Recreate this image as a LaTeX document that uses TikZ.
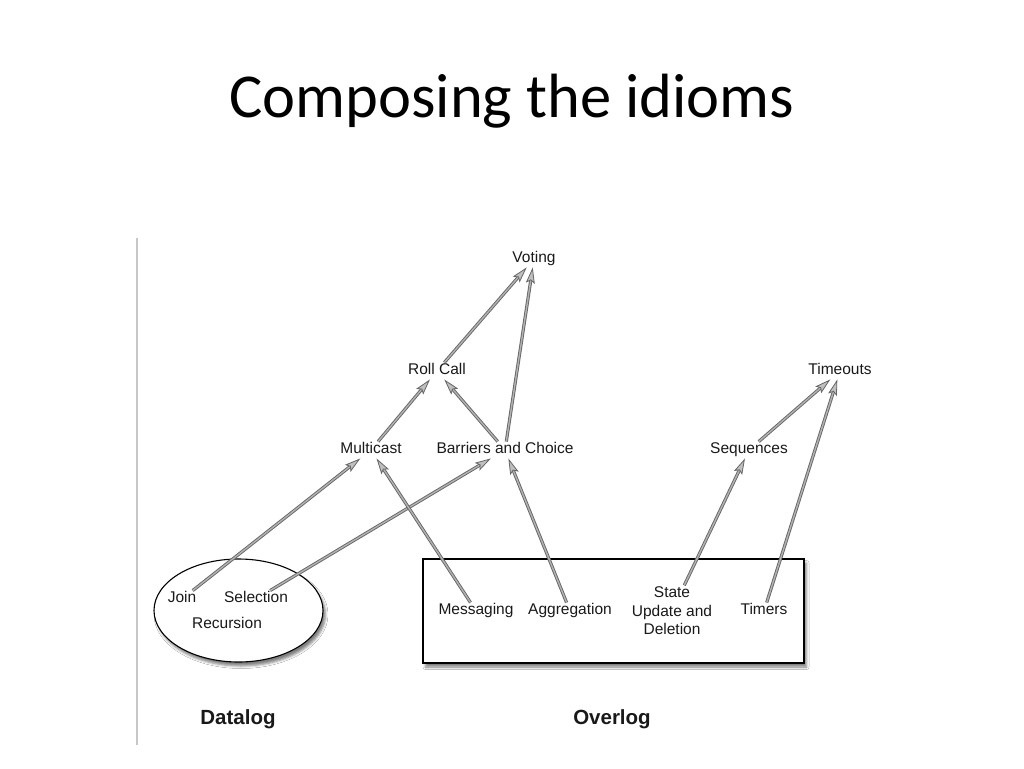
\documentclass[tikz,border=0pt]{standalone}
\usepackage{fontspec}
\setmainfont{Liberation Sans}
\newfontfamily\titlefont{Carlito}
\usetikzlibrary{arrows.meta,shapes.geometric,shadows.blur}
\begin{document}
\begin{tikzpicture}[x=1pt,y=-1pt,
  base/.style={font=\fontsize{15.5}{18.5}\selectfont, text=black!90, inner xsep=1pt, inner ysep=1.5pt},
  lbl/.style={base, text height=10.5pt, text depth=3pt},
  grp/.style={font=\bfseries\fontsize{20.5}{24}\selectfont, text=black!90},
  container/.style={draw=black, line width=1.1pt, fill=white,
    blur shadow={shadow xshift=2.5pt, shadow yshift=-4pt, shadow blur radius=2.5pt, shadow opacity=50}},
  idiom/.style={draw=black!60, line width=0.9pt, double=black!30, double distance=1.4pt,
    -{Stealth[length=16pt,width=9pt,inset=3pt,fill=black!25,color=black!60,line width=0.8pt]}}
]
\useasboundingbox (0,0) rectangle (1024,768);
\fill[white] (0,0) rectangle (1024,768);

% title
\node[font=\titlefont\fontsize{62.5}{70}\selectfont, anchor=base, inner sep=0] (title) at (512,117) {Composing the idioms};

% left rule
\coordinate (ruletop) at (137,238);
\coordinate (rulebot) at (137,745);
\draw[black!22, line width=1.6pt] (ruletop) -- (rulebot);

% containers
\node[container, ellipse, minimum width=169pt, minimum height=103pt, inner sep=0] (datalogshape) at (238.5,610.5) {};
\node[container, rectangle, minimum width=381pt, minimum height=104pt, inner sep=0] (overlogshape) at (613.5,611) {};

% labels
\node[lbl] (voting) at (534,259) {Voting};
\node[lbl] (rollcall) at (437,371) {Roll Call};
\node[lbl] (multicast) at (371,450) {Multicast};
\node[lbl] (barriers) at (505,450) {Barriers and Choice};
\node[lbl] (sequences) at (749,450) {Sequences};
\node[lbl] (timeouts) at (840,371) {Timeouts};

\node[lbl] (join) at (182,599) {Join};
\node[lbl] (selection) at (256,599) {Selection};
\node[lbl] (recursion) at (227,625) {Recursion};

\node[lbl] (messaging) at (476,611) {Messaging};
\node[lbl] (aggregation) at (570,611) {Aggregation};
\node[base, align=center] (state) at (672,611) {State\\Update and\\Deletion};
\node[lbl] (timers) at (764,611) {Timers};

\node[grp] (datalog) at (238,719) {Datalog};
\node[grp] (overlog) at (612,719) {Overlog};

% arrows
\draw[idiom] (rollcall) -- (voting);
\draw[idiom] (barriers) -- (voting);
\draw[idiom] (multicast) -- (rollcall);
\draw[idiom] (barriers) -- (rollcall);
\draw[idiom] (join) -- (multicast);
\draw[idiom] (selection) -- (barriers);
\draw[idiom] (messaging) -- (multicast);
\draw[idiom] (aggregation) -- (barriers);
\draw[idiom] (state) -- (sequences);
\draw[idiom] (sequences) -- (timeouts);
\draw[idiom] (timers) -- (timeouts);
\end{tikzpicture}
\end{document}
